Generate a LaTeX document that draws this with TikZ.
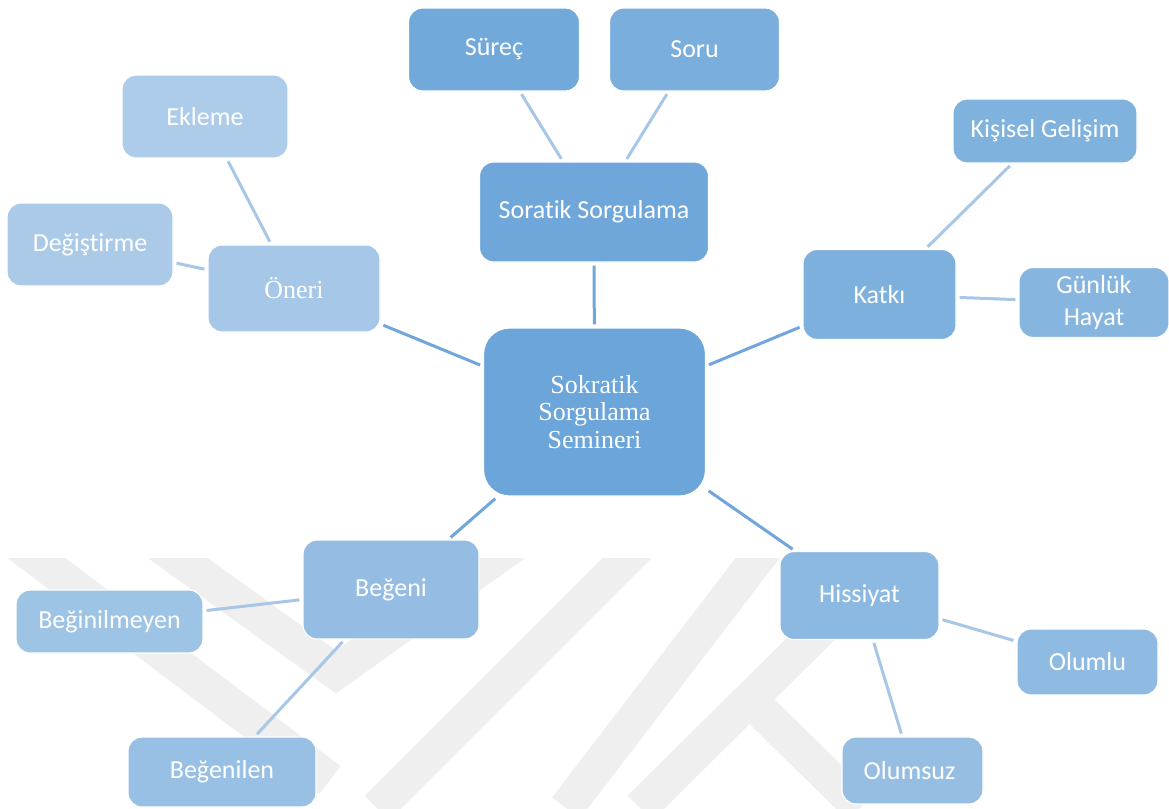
\documentclass[tikz,border=0pt]{standalone}
\usepackage{fontspec}
\setmainfont{Liberation Serif}
\newfontfamily\boxfont[Ligatures=NoCommon]{Carlito}

\definecolor{cSem}{RGB}{107,165,217}
\definecolor{cSor}{RGB}{111,167,218}
\definecolor{cSurec}{RGB}{114,169,219}
\definecolor{cSoru}{RGB}{122,174,220}
\definecolor{cOneri}{RGB}{166,199,232}
\definecolor{cEkleme}{RGB}{173,204,233}
\definecolor{cDegis}{RGB}{170,202,232}
\definecolor{cKatki}{RGB}{126,176,221}
\definecolor{cKisisel}{RGB}{128,178,222}
\definecolor{cGunluk}{RGB}{134,181,223}
\definecolor{cBegeni}{RGB}{149,189,227}
\definecolor{cBegmeyen}{RGB}{157,195,229}
\definecolor{cBegilen}{RGB}{152,191,228}
\definecolor{cHis}{RGB}{140,185,225}
\definecolor{cOlumlu}{RGB}{143,187,226}
\definecolor{cOlumsuz}{RGB}{150,190,227}
\definecolor{linkMain}{RGB}{112,166,219}
\definecolor{linkSub}{RGB}{168,199,231}
\definecolor{wmark}{RGB}{239,239,239}

\begin{document}
\begin{tikzpicture}
		[
			x=1pt, y=-1pt,
			box/.style={rectangle, rounded corners=14pt, draw=white, line width=1.2pt, text=white, inner sep=0pt, align=center, font=\boxfont\fontsize{26}{31.5}\selectfont},
			serifbox/.style={box, font=\fontsize{26}{27.5}\selectfont},
			root/.style={serifbox, rounded corners=26pt},
			main/.style={draw=linkMain, line width=3pt, shorten <=3pt, shorten >=3pt},
			sub/.style={draw=linkSub, line width=3pt, shorten <=3pt, shorten >=3pt},
		]

		\useasboundingbox (0,0) rectangle (1169,808);

		% Watermark
		\begin{scope}
			\clip (0,558) rectangle (1169,808);
			\foreach \band in
			{
				{(10,538) -- (330,780)},
				{(150,538) -- (336,672) -- (523,538)},
				{(647,538) -- (377,808)},
				{(773,538) -- (566,808)},
				{(850,600) -- (640,808)},
				{(740,690) -- (860,808)}
			}
				\draw[draw=wmark, line width=35pt] \band;
		\end{scope}

		% Nodes
		\foreach \style/\name/\x/\y/\w/\h/\col/\text in
		{
			root/sem/594.5/412/222/168/cSem/{Sokratik\\Sorgulama\\Semineri},
			box/sor/594/212/229/100/cSor/{Soratik Sorgulama},
			box/surec/494/49.5/171/83/cSurec/{Süreç},
			box/soru/694.5/49.5/170/83/cSoru/{Soru},
			serifbox/oneri/294/288.5/172/87/cOneri/{Öneri},
			box/ekleme/205/116.5/166/83/cEkleme/{Ekleme},
			box/degis/90/244.5/166/83/cDegis/{Değiştirme},
			box/katki/879.5/294.5/153/90/cKatki/{Katkı},
			box/kisisel/1045/131/184/64/cKisisel/{Kişisel Gelişim},
			box/gunluk/1094/302.5/150/70/cGunluk/{Günlük\\Hayat},
			box/begeni/391/589.5/176/99/cBegeni/{Beğeni},
			box/begmeyen/109.5/621.5/187/63/cBegmeyen/{Beğinilmeyen},
			box/begilen/222/772/188/70/cBegilen/{Beğenilen},
			box/his/859.5/595.5/159/88/cHis/{Hissiyat},
			box/olumlu/1087.5/662/141/66/cOlumlu/{Olumlu},
			box/olumsuz/912.5/770.5/141/67/cOlumsuz/{Olumsuz}
		}
			\node[\style, fill=\col, minimum width=\w, minimum height=\h] (\name) at (\x,\y) {\text};

		% Edges
		\foreach \u/\v in
		{
			sem/sor,
			sem/oneri,
			sem/katki,
			sem/begeni,
			sem/his}
			\draw[main] (\u) -- (\v);

		\foreach \u/\v in
		{
			sor/surec,
			sor/soru,
			oneri/ekleme,
			oneri/degis,
			katki/kisisel,
			katki/gunluk,
			begeni/begmeyen,
			begeni/begilen,
			his/olumlu,
			his/olumsuz}
			\draw[sub] (\u) -- (\v);

		\end{tikzpicture}
\end{document}
